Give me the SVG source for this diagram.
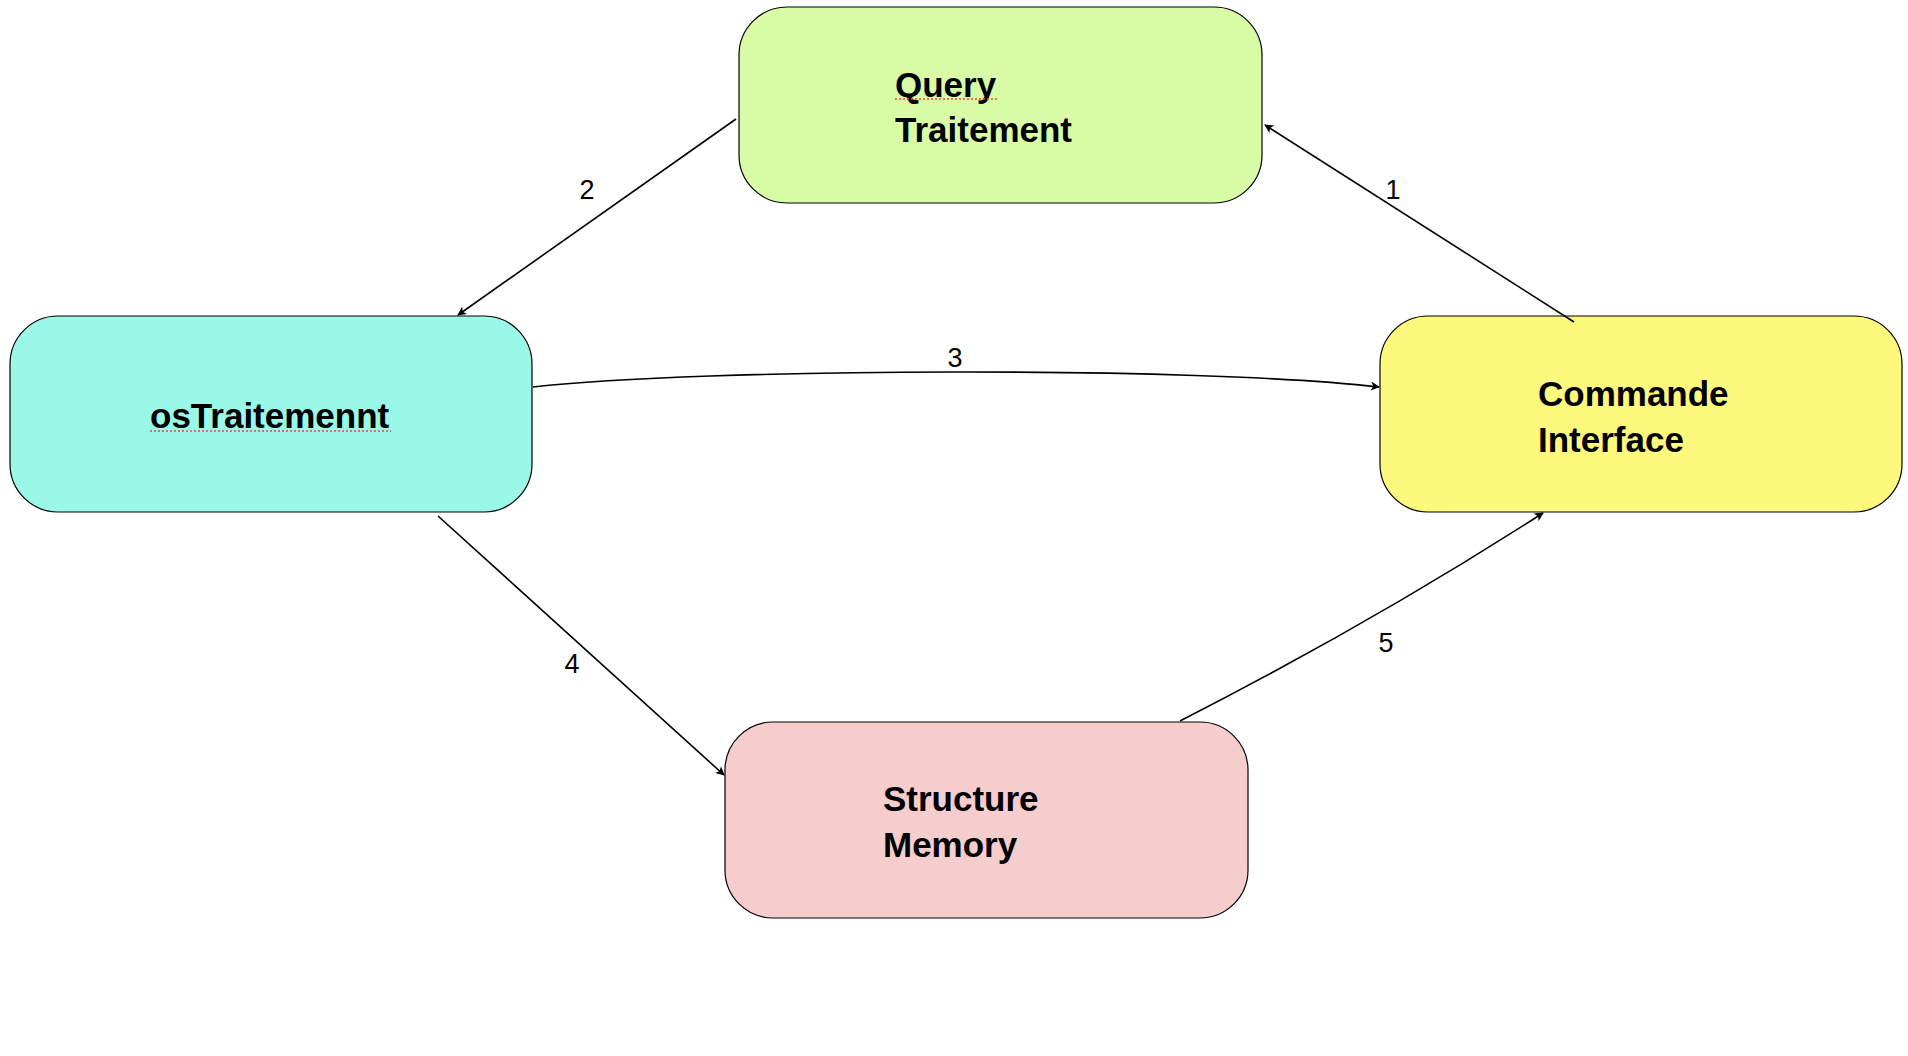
<svg xmlns="http://www.w3.org/2000/svg" width="1908" height="1056" viewBox="0 0 1908 1056">
  <defs>
    <marker id="arrow" viewBox="0 0 10 10" refX="9" refY="5" markerWidth="10" markerHeight="9" markerUnits="userSpaceOnUse" orient="auto">
      <path d="M0,0 L10,5 L0,10 L2.5,5 Z" fill="#000"/>
    </marker>
    <style>
      .node { stroke: #000; stroke-width: 1.2; }
      .label { font-family: "Liberation Sans", Arial, Helvetica, sans-serif; font-weight: bold; font-size: 35px; fill: #000; }
      .edge { fill: none; stroke: #000; stroke-width: 1.6; marker-end: url(#arrow); }
      .elabel { font-family: "Liberation Sans", Arial, Helvetica, sans-serif; font-size: 27px; fill: #000; text-anchor: middle; }
      .squig { stroke: #e8463c; stroke-width: 1.6; stroke-dasharray: 2 2; fill: none; }
    </style>
  </defs>
  <rect width="1908" height="1056" fill="#fff"/>

  <g id="query-traitement">
    <rect class="node" x="739" y="7" width="523" height="196" rx="48" ry="48" fill="#D8FCA6"/>
    <text class="label" x="895" y="97">Query</text>
    <text class="label" x="895" y="142">Traitement</text>
    <line class="squig" x1="895" y1="99" x2="998" y2="99"/>
  </g>

  <g id="ostraitemennt">
    <rect class="node" x="10" y="316" width="522" height="196" rx="48" ry="48" fill="#99F8E8"/>
    <text class="label" x="150" y="428">osTraitemennt</text>
    <line class="squig" x1="150" y1="431" x2="391" y2="431"/>
  </g>

  <g id="commande-interface">
    <rect class="node" x="1380" y="316" width="522" height="196" rx="48" ry="48" fill="#FEF87C"/>
    <text class="label" x="1538" y="406">Commande</text>
    <text class="label" x="1538" y="452">Interface</text>
  </g>

  <g id="structure-memory">
    <rect class="node" x="725" y="722" width="523" height="196" rx="48" ry="48" fill="#F6CDCD"/>
    <text class="label" x="883" y="811">Structure</text>
    <text class="label" x="883" y="857">Memory</text>
  </g>

  <g id="connectors">
    <path id="e1" class="edge" d="M1574,322 L1265,125"/>
    <path id="e2" class="edge" d="M736,119 L458,315"/>
    <path id="e3" class="edge" d="M533,387 C700,368 1200,366 1379,387"/>
    <path id="e4" class="edge" d="M438,516 L724,775"/>
    <path id="e5" class="edge" d="M1180,721 Q1372,623 1543,513"/>
    <text class="elabel" x="1393" y="199">1</text>
    <text class="elabel" x="587" y="199">2</text>
    <text class="elabel" x="955" y="367">3</text>
    <text class="elabel" x="572" y="673">4</text>
    <text class="elabel" x="1386" y="652">5</text>
  </g>
</svg>
